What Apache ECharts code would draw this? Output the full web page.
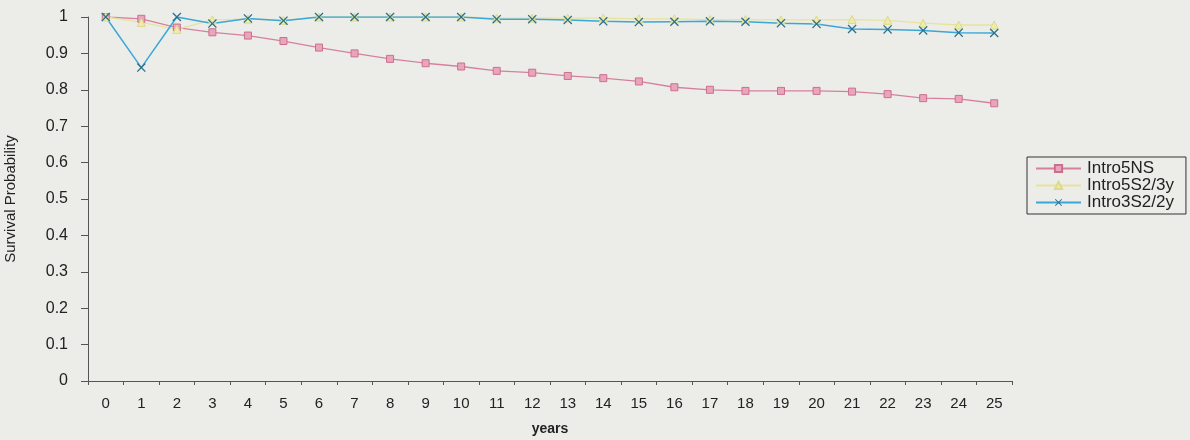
<!DOCTYPE html>
<html>
<head>
<meta charset="utf-8">
<script src="https://cdn.jsdelivr.net/npm/echarts@6/dist/echarts.min.js"></script>
<style>
html,body{margin:0;padding:0;background:#ecede8;}
#c{width:1190px;height:440px;}
</style>
</head>
<body>
<div id="c"></div>
<script>
const years = ['0','1','2','3','4','5','6','7','8','9','10','11','12','13','14','15','16','17','18','19','20','21','22','23','24','25'];
const intro5NS = [1.0,0.995,0.971,0.958,0.949,0.934,0.916,0.900,0.885,0.873,0.864,0.852,0.847,0.838,0.832,0.823,0.807,0.800,0.797,0.797,0.797,0.795,0.788,0.777,0.775,0.763];
const intro5S23y = [1.0,0.985,0.966,0.992,0.994,0.991,1.0,1.0,1.0,1.0,1.0,0.997,0.997,0.997,0.997,0.995,0.995,0.993,0.993,0.992,0.992,0.993,0.991,0.983,0.978,0.978];
const intro3S22y = [1.0,0.861,1.0,0.982,0.996,0.990,1.0,1.0,1.0,1.0,1.0,0.994,0.994,0.992,0.988,0.986,0.987,0.988,0.987,0.983,0.981,0.967,0.966,0.963,0.957,0.956];
const seriesNames = ['Intro5NS','Intro5S2/3y','Intro3S2/2y'];

const crossPath = 'path://M0,1L1,0L5,4L9,0L10,1L6,5L10,9L9,10L5,6L1,10L0,9L4,5Z';
const font = 'Arial, "Liberation Sans", sans-serif';

const chart = echarts.init(document.getElementById('c'));
chart.setOption({
  backgroundColor: '#ecede8',
  animation: false,
  textStyle: {fontFamily: font},
  grid: {left: 88, right: 178, top: 17, bottom: 59, containLabel: false, outerBoundsMode: 'none'},
  legend: {
    orient: 'vertical',
    left: 1027, top: 157,
    itemWidth: 45, itemHeight: 9,
    itemGap: 0,
    padding: [3, 12, 3, 8],
    borderColor: '#333', borderWidth: 1,
    textStyle: {fontSize: 17, color: '#222', fontFamily: font, padding: [0, 0, 0, 1]},
    data: seriesNames
  },
  xAxis: {
    type: 'category',
    data: years,
    boundaryGap: true,
    name: 'years',
    nameLocation: 'middle',
    nameGap: 41,
    nameTextStyle: {fontSize: 14, fontWeight: 'bold', color: '#222'},
    axisLine: {lineStyle: {color: '#555', width: 1}},
    axisTick: {show: true, length: 4, lineStyle: {color: '#555'}},
    axisLabel: {fontSize: 15, color: '#222', margin: 15, interval: 0},
    splitLine: {show: false}
  },
  yAxis: {
    type: 'value',
    min: 0, max: 1, interval: 0.1,
    name: 'Survival Probability',
    nameLocation: 'middle',
    nameRotate: 90,
    nameGap: 70,
    nameTextStyle: {fontSize: 15, color: '#222'},
    axisLine: {show: true, lineStyle: {color: '#555', width: 1}},
    axisTick: {show: true, length: 7, lineStyle: {color: '#555'}},
    axisLabel: {fontSize: 16, color: '#222', margin: 20, formatter: v => String(+v.toFixed(1))},
    splitLine: {show: false}
  },
  series: [
    {
      name: seriesNames[0], type: 'line', data: intro5NS,
      symbol: 'rect', symbolSize: 7,
      lineStyle: {color: '#d6809e', width: 1.3},
      itemStyle: {color: '#eaa5bd', borderColor: '#c9708f', borderWidth: 1}
    },
    {
      name: seriesNames[1], type: 'line', data: intro5S23y,
      symbol: 'triangle', symbolSize: 8,
      lineStyle: {color: '#e6e49c', width: 1.3},
      itemStyle: {color: '#eeeca8', borderColor: '#dcd98a', borderWidth: 1}
    },
    {
      name: seriesNames[2], type: 'line', data: intro3S22y,
      symbol: crossPath, symbolSize: 9,
      lineStyle: {color: '#3ba7d9', width: 1.5},
      itemStyle: {color: '#2d6f8c'}
    }
  ]
});
</script>
</body>
</html>
